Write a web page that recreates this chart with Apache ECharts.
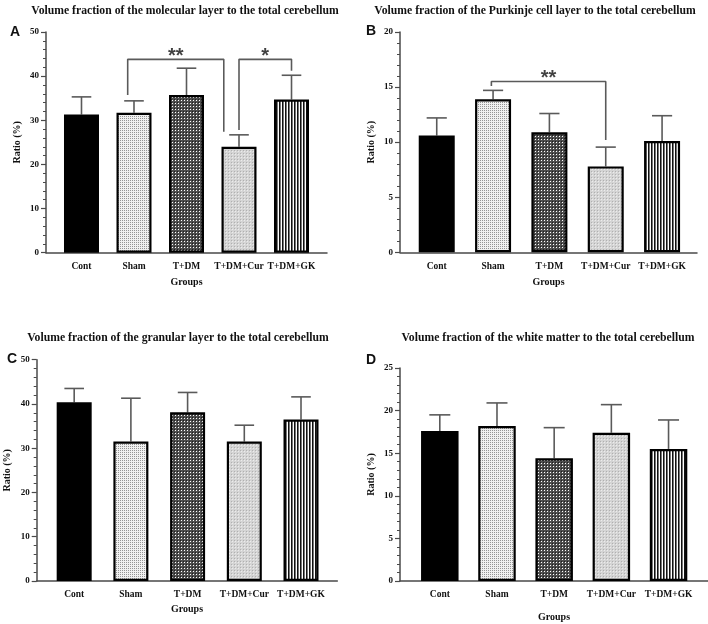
<!DOCTYPE html>
<html>
<head>
<meta charset="utf-8">
<script src="https://cdn.jsdelivr.net/npm/echarts@6/dist/echarts.min.js"></script>
<style>
  html, body { margin: 0; padding: 0; background: #fff; }
  #chart { width: 708px; height: 624px; }
</style>
</head>
<body>
<div id="chart"></div>
<script>
// groups on the x axis
const groups = ['Cont', 'Sham', 'T+DM', 'T+DM+Cur', 'T+DM+GK'];

// mean and error (upper bar) per panel
const molecularMean = [31.3, 31.7, 35.7, 24.0, 34.7];
const molecularErr = [4.0, 2.7, 6.1, 2.7, 5.5];
const purkinjeMean = [10.6, 13.9, 10.9, 7.8, 10.1];
const purkinjeErr = [1.6, 0.8, 1.7, 1.75, 2.3];
const granularMean = [40.4, 31.5, 38.1, 31.5, 36.5];
const granularErr = [3.1, 9.8, 4.5, 3.7, 5.1];
const whiteMean = [17.6, 18.2, 14.4, 17.4, 15.5];
const whiteErr = [1.9, 2.7, 3.6, 3.3, 3.4];

// y axis ticks: [max, step]
const molecularTicks = [50, 10];
const purkinjeTicks = [20, 5];
const granularTicks = [50, 10];
const whiteTicks = [25, 5];

// significance brackets: [xLeft, yLeft, xRight, yRight, yTop, label]
const molecularSig = [[0.88, 35.7, 2.71, 27.4, 43.8, '**'], [3.0, 27.8, 4.0, 41.2, 43.8, '*']];
const purkinjeSig = [[0.97, 15.1, 3.0, 10.2, 15.5, '**']];

const SERIF = '"Liberation Serif", "Times New Roman", serif';
const SANS = '"Liberation Sans", Arial, sans-serif';
const AXIS_COLOR = '#4a4a4a';
const ERR_COLOR = '#5a5a5a';

function makePattern(w, h, draw) {
    const c = document.createElement('canvas');
    c.width = w; c.height = h;
    const ctx = c.getContext('2d');
    draw(ctx);
    return { image: c, repeat: 'repeat' };
}

// bar fills
const fills = [
    '#000',
    makePattern(2, 2, ctx => {
        ctx.fillStyle = '#f0f0f0'; ctx.fillRect(0, 0, 2, 2);
        ctx.fillStyle = '#949494'; ctx.fillRect(0, 0, 1, 1);
    }),
    makePattern(3, 3, ctx => {
        ctx.fillStyle = '#4e4e4e'; ctx.fillRect(0, 0, 3, 3);
        ctx.fillStyle = '#fff'; ctx.fillRect(1, 1, 1, 1);
        ctx.fillStyle = '#1e1e1e'; ctx.fillRect(0, 0, 1, 1);
    }),
    makePattern(3, 3, ctx => {
        ctx.fillStyle = '#d4d4d4'; ctx.fillRect(0, 0, 3, 3);
        ctx.fillStyle = '#b0b0b0'; ctx.fillRect(0, 0, 1, 1);
        ctx.fillStyle = '#ececec'; ctx.fillRect(1, 1, 1, 1);
    }),
    makePattern(3, 1, ctx => {
        ctx.fillStyle = '#fff'; ctx.fillRect(0, 0, 3, 1);
        ctx.fillStyle = '#111'; ctx.fillRect(0, 0, 1, 1);
        ctx.fillStyle = '#777'; ctx.fillRect(1, 0, 1, 1);
    })
];

// layout of the four panels
const panels = [
    { title: 'Volume fraction of the molecular layer to the total cerebellum', letter: 'A',
      titleX: 180, titleY: 0, letterX: 5, letterY: 20,
      grid: { left: 46, top: 32, width: 281, height: 220.7 }, xMin: -0.676, xMax: 4.676, barWidth: 35,
      mean: molecularMean, err: molecularErr, ticks: molecularTicks, sig: molecularSig, groupsGap: 25 },
    { title: 'Volume fraction of the Purkinje cell layer to the total cerebellum', letter: 'B',
      titleX: 530, titleY: 0, letterX: 361, letterY: 19,
      grid: { left: 400, top: 32, width: 297, height: 220.3 }, xMin: -0.652, xMax: 4.62, barWidth: 36,
      mean: purkinjeMean, err: purkinjeErr, ticks: purkinjeTicks, sig: purkinjeSig, groupsGap: 25 },
    { title: 'Volume fraction of the granular layer to the total cerebellum', letter: 'C',
      titleX: 173, titleY: 327, letterX: 2, letterY: 347,
      grid: { left: 36.7, top: 359.7, width: 300.6, height: 221.3 }, xMin: -0.661, xMax: 4.64, barWidth: 35,
      mean: granularMean, err: granularErr, ticks: granularTicks, sig: [], groupsGap: 23 },
    { title: 'Volume fraction of the white matter to the total cerebellum', letter: 'D',
      titleX: 543, titleY: 327, letterX: 361, letterY: 348,
      grid: { left: 400, top: 368, width: 308, height: 213 }, xMin: -0.696, xMax: 4.69, barWidth: 37.5,
      mean: whiteMean, err: whiteErr, ticks: whiteTicks, sig: [], groupsGap: 31 }
];

const chart = echarts.init(document.getElementById('chart'));

const titles = [], grids = [], xAxes = [], yAxes = [], series = [];

panels.forEach((p, k) => {
    titles.push({
        text: p.title, left: p.titleX, top: p.titleY, textAlign: 'center',
        textStyle: { fontFamily: SERIF, fontWeight: 'bold', fontSize: 11.7, color: '#111' }
    });
    titles.push({
        text: p.letter, left: p.letterX, top: p.letterY,
        textStyle: { fontFamily: SANS, fontWeight: 'bold', fontSize: 14, color: '#111' }
    });
    grids.push(p.grid);
    xAxes.push({
        type: 'value', gridIndex: k, min: p.xMin, max: p.xMax,
        name: 'Groups', nameLocation: 'middle', nameGap: p.groupsGap,
        nameTextStyle: { fontFamily: SERIF, fontWeight: 'bold', fontSize: 10, color: '#111' },
        axisLine: { show: true, onZero: false, lineStyle: { color: AXIS_COLOR, width: 1.5 } },
        axisTick: { show: false },
        splitLine: { show: false },
        axisLabel: {
            customValues: [0, 1, 2, 3, 4], margin: 9,
            formatter: v => groups[Math.round(v)],
            fontFamily: SERIF, fontWeight: 'bold', fontSize: 9.5, color: '#111'
        }
    });
    yAxes.push({
        type: 'value', gridIndex: k, min: 0, max: p.ticks[0], interval: p.ticks[1],
        name: 'Ratio (%)', nameLocation: 'middle', nameRotate: 90, nameGap: 24,
        nameTextStyle: { fontFamily: SERIF, fontWeight: 'bold', fontSize: 10, color: '#111' },
        axisLine: { show: true, onZero: false, lineStyle: { color: AXIS_COLOR, width: 1.5 } },
        axisTick: { show: true, length: 5, lineStyle: { color: AXIS_COLOR, width: 1.2 } },
        minorTick: { show: true, splitNumber: 5, length: 3, lineStyle: { color: AXIS_COLOR, width: 1 } },
        splitLine: { show: false },
        axisLabel: { margin: 7, fontFamily: SERIF, fontWeight: 'bold', fontSize: 9, color: '#111' }
    });

    const capHalf = p.barWidth * 0.28;
    series.push({
        type: 'custom', xAxisIndex: k, yAxisIndex: k, z: 1,
        data: p.mean.map((m, i) => [i, m, p.err[i]]),
        renderItem: (params, api) => {
            const x = api.value(0), m = api.value(1), e = api.value(2);
            const a = api.coord([x, m]);
            const b = api.coord([x, m + e]);
            return {
                type: 'group',
                children: [
                    { type: 'line', shape: { x1: a[0], y1: a[1], x2: b[0], y2: b[1] },
                      style: { stroke: ERR_COLOR, lineWidth: 1.6 } },
                    { type: 'line', shape: { x1: b[0] - capHalf, y1: b[1], x2: b[0] + capHalf, y2: b[1] },
                      style: { stroke: ERR_COLOR, lineWidth: 1.6 } }
                ]
            };
        }
    });
    series.push({
        type: 'bar', xAxisIndex: k, yAxisIndex: k, z: 2, barWidth: p.barWidth,
        data: p.mean.map((m, i) => ({
            value: [i, m],
            itemStyle: { color: fills[i], borderColor: '#000', borderWidth: 2.2 }
        })),
        emphasis: { disabled: true }
    });
    p.sig.forEach(s => {
        series.push({
            type: 'line', xAxisIndex: k, yAxisIndex: k, z: 3, symbol: 'none',
            data: [[s[0], s[1]], [s[0], s[4]], [s[2], s[4]], [s[2], s[3]]],
            lineStyle: { color: ERR_COLOR, width: 1.6 }
        });
        series.push({
            type: 'scatter', xAxisIndex: k, yAxisIndex: k, z: 4, symbolSize: 2,
            itemStyle: { color: 'rgba(0,0,0,0)' },
            data: [[(s[0] + s[2]) / 2, s[4]]],
            label: {
                show: true, position: 'top', distance: -8, formatter: s[5],
                fontFamily: SANS, fontWeight: 'bold', fontSize: 20, color: '#111'
            }
        });
    });
});

chart.setOption({
    animation: false,
    backgroundColor: '#fff',
    title: titles,
    grid: grids,
    xAxis: xAxes,
    yAxis: yAxes,
    series: series
});
</script>
</body>
</html>
